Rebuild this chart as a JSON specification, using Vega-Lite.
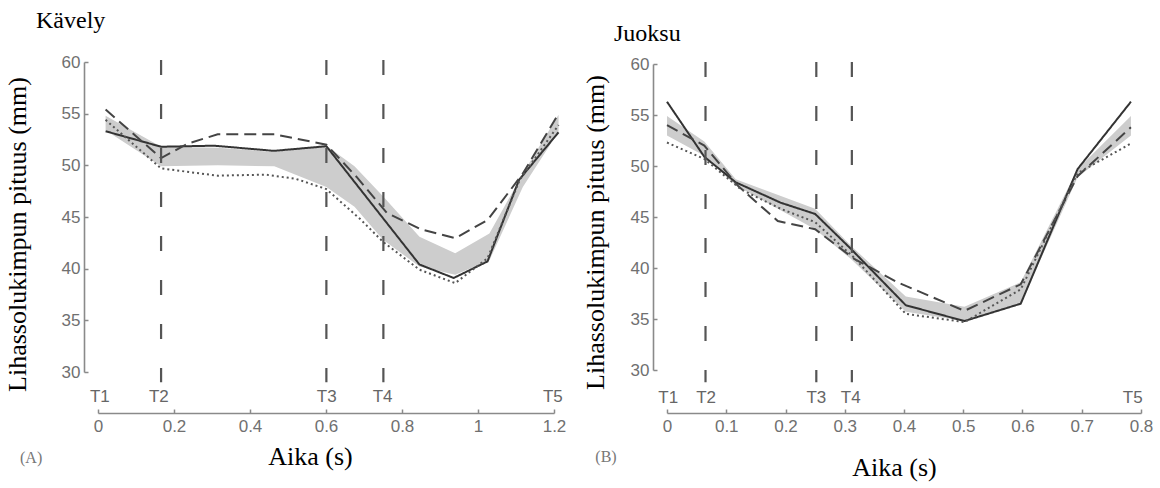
{
  "$schema": "https://vega.github.io/schema/vega-lite/v6.json",
  "background": "white",
  "padding": {"left": 4, "top": 9, "right": 5, "bottom": 5},
  "bounds": "flush",
  "spacing": 113,
  "center": true,
  "config": {
    "view": {"stroke": null},
    "axis": {
      "grid": false,
      "domainColor": "#8a8a8a",
      "domainWidth": 1.6,
      "tickColor": "#8a8a8a",
      "tickWidth": 1.5,
      "tickSize": -4,
      "labelFlush": false,
      "labelColor": "#707070",
      "labelFont": "Liberation Sans",
      "labelFontSize": 17,
      "titleFont": "Liberation Serif",
      "titleFontSize": 26,
      "titleFontWeight": "normal",
      "titleColor": "#000000",
      "titleBaseline": "alphabetic"
    },
    "title": {
      "font": "Liberation Serif",
      "fontSize": 24,
      "fontWeight": "normal",
      "color": "#000000",
      "anchor": "start",
      "frame": "group",
      "baseline": "alphabetic"
    }
  },
  "datasets": {
    "walk": [
      {"t": 0.02, "series": "solid", "v": 53.3},
      {"t": 0.166, "series": "solid", "v": 51.8},
      {"t": 0.306, "series": "solid", "v": 51.9},
      {"t": 0.463, "series": "solid", "v": 51.4},
      {"t": 0.601, "series": "solid", "v": 51.85},
      {"t": 0.846, "series": "solid", "v": 40.4},
      {"t": 0.936, "series": "solid", "v": 39.1},
      {"t": 1.025, "series": "solid", "v": 40.7},
      {"t": 1.108, "series": "solid", "v": 48.6},
      {"t": 1.212, "series": "solid", "v": 53.2},
      {"t": 0.02, "series": "dashed", "v": 55.4},
      {"t": 0.166, "series": "dashed", "v": 50.7},
      {"t": 0.236, "series": "dashed", "v": 52.1},
      {"t": 0.315, "series": "dashed", "v": 53.0},
      {"t": 0.464, "series": "dashed", "v": 53.0},
      {"t": 0.601, "series": "dashed", "v": 52.0},
      {"t": 0.68, "series": "dashed", "v": 48.9},
      {"t": 0.76, "series": "dashed", "v": 45.4},
      {"t": 0.85, "series": "dashed", "v": 43.8},
      {"t": 0.94, "series": "dashed", "v": 42.95},
      {"t": 1.025, "series": "dashed", "v": 44.7},
      {"t": 1.118, "series": "dashed", "v": 49.2},
      {"t": 1.212, "series": "dashed", "v": 55.0},
      {"t": 0.02, "series": "dotted", "v": 54.4},
      {"t": 0.166, "series": "dotted", "v": 49.7},
      {"t": 0.315, "series": "dotted", "v": 49.0},
      {"t": 0.44, "series": "dotted", "v": 49.1},
      {"t": 0.52, "series": "dotted", "v": 48.7},
      {"t": 0.601, "series": "dotted", "v": 47.7},
      {"t": 0.69, "series": "dotted", "v": 44.8},
      {"t": 0.75, "series": "dotted", "v": 42.6},
      {"t": 0.846, "series": "dotted", "v": 39.9},
      {"t": 0.94, "series": "dotted", "v": 38.6},
      {"t": 1.025, "series": "dotted", "v": 41.0},
      {"t": 1.11, "series": "dotted", "v": 48.6},
      {"t": 1.212, "series": "dotted", "v": 53.9}
    ],
    "walkBand": [
      {"t": 0.02, "lo": 53.4, "hi": 54.8},
      {"t": 0.166, "lo": 49.9, "hi": 51.8},
      {"t": 0.315, "lo": 50.0, "hi": 51.7},
      {"t": 0.464, "lo": 49.9, "hi": 51.3},
      {"t": 0.601, "lo": 47.9, "hi": 51.9},
      {"t": 0.675, "lo": 46.0, "hi": 49.9},
      {"t": 0.75, "lo": 42.8, "hi": 47.0},
      {"t": 0.846, "lo": 40.2, "hi": 43.1},
      {"t": 0.94, "lo": 39.4, "hi": 41.5},
      {"t": 1.03, "lo": 40.8, "hi": 43.4},
      {"t": 1.118, "lo": 47.9, "hi": 49.2},
      {"t": 1.212, "lo": 53.25, "hi": 54.9}
    ],
    "walkRules": [{"t": 0.166}, {"t": 0.601}, {"t": 0.751}],
    "walkLabels": [
      {"t": 0.005, "label": "T1"},
      {"t": 0.16, "label": "T2"},
      {"t": 0.602, "label": "T3"},
      {"t": 0.749, "label": "T4"},
      {"t": 1.197, "label": "T5"}
    ],
    "run": [
      {"t": 0.0, "series": "solid", "v": 56.3},
      {"t": 0.063, "series": "solid", "v": 50.9},
      {"t": 0.116, "series": "solid", "v": 48.4},
      {"t": 0.192, "series": "solid", "v": 46.4},
      {"t": 0.25, "series": "solid", "v": 45.3},
      {"t": 0.31, "series": "solid", "v": 41.9},
      {"t": 0.403, "series": "solid", "v": 36.35},
      {"t": 0.502, "series": "solid", "v": 34.8},
      {"t": 0.597, "series": "solid", "v": 36.5},
      {"t": 0.693, "series": "solid", "v": 49.7},
      {"t": 0.783, "series": "solid", "v": 56.3},
      {"t": 0.0, "series": "dashed", "v": 54.0},
      {"t": 0.063, "series": "dashed", "v": 52.0},
      {"t": 0.119, "series": "dashed", "v": 48.1},
      {"t": 0.187, "series": "dashed", "v": 44.6},
      {"t": 0.25, "series": "dashed", "v": 43.8},
      {"t": 0.316, "series": "dashed", "v": 40.9},
      {"t": 0.389, "series": "dashed", "v": 38.6},
      {"t": 0.502, "series": "dashed", "v": 35.8},
      {"t": 0.597, "series": "dashed", "v": 38.4},
      {"t": 0.693, "series": "dashed", "v": 49.0},
      {"t": 0.783, "series": "dashed", "v": 53.8},
      {"t": 0.0, "series": "dotted", "v": 52.3},
      {"t": 0.063, "series": "dotted", "v": 50.7},
      {"t": 0.125, "series": "dotted", "v": 47.7},
      {"t": 0.192, "series": "dotted", "v": 45.8},
      {"t": 0.25, "series": "dotted", "v": 44.5},
      {"t": 0.316, "series": "dotted", "v": 41.0},
      {"t": 0.403, "series": "dotted", "v": 35.5},
      {"t": 0.502, "series": "dotted", "v": 34.7},
      {"t": 0.597, "series": "dotted", "v": 37.9},
      {"t": 0.693, "series": "dotted", "v": 49.3},
      {"t": 0.783, "series": "dotted", "v": 52.2}
    ],
    "runBand": [
      {"t": 0.0, "lo": 53.0, "hi": 54.9},
      {"t": 0.063, "lo": 51.0, "hi": 52.4},
      {"t": 0.116, "lo": 48.1, "hi": 48.7},
      {"t": 0.25, "lo": 43.8, "hi": 45.8},
      {"t": 0.31, "lo": 40.9, "hi": 42.2},
      {"t": 0.403, "lo": 35.7, "hi": 37.2},
      {"t": 0.502, "lo": 34.8, "hi": 36.2},
      {"t": 0.597, "lo": 36.5, "hi": 38.6},
      {"t": 0.693, "lo": 48.9, "hi": 49.7},
      {"t": 0.783, "lo": 53.0, "hi": 54.9}
    ],
    "runRules": [{"t": 0.065}, {"t": 0.252}, {"t": 0.312}],
    "runLabels": [
      {"t": 0.002, "label": "T1"},
      {"t": 0.066, "label": "T2"},
      {"t": 0.252, "label": "T3"},
      {"t": 0.31, "label": "T4"},
      {"t": 0.786, "label": "T5"}
    ]
  },
  "hconcat": [
    {
      "width": 456,
      "height": 310,
      "title": {"text": "Kävely", "offset": 20, "dx": -62},
      "layer": [
        {
          "data": {"name": "walkBand"},
          "mark": {"type": "area", "color": "#cdcdcd", "opacity": 1},
          "encoding": {
            "x": {
              "field": "t", "type": "quantitative",
              "scale": {"domain": [0, 1.2], "nice": false, "zero": false},
              "axis": {
                "title": "Aika (s)",
                "values": [0, 0.2, 0.4, 0.6, 0.8, 1, 1.2],
                "format": "~g",
                "offset": 41,
                "labelPadding": 9,
                "titleX": 212,
                "titleY": 51
              }
            },
            "y": {
              "field": "lo", "type": "quantitative",
              "scale": {"domain": [30, 60], "nice": false, "zero": false},
              "axis": {
                "title": "Lihassolukimpun pituus (mm)",
                "values": [30, 35, 40, 45, 50, 55, 60],
                "offset": 14,
                "labelPadding": 8,
                "titleX": -59,
                "titleY": 172
              }
            },
            "y2": {"field": "hi"}
          }
        },
        {
          "data": {"name": "walk"},
          "mark": {"type": "line", "strokeWidth": 2},
          "encoding": {
            "x": {"field": "t", "type": "quantitative"},
            "y": {"field": "v", "type": "quantitative"},
            "color": {"field": "series", "type": "nominal", "scale": {"domain": ["solid", "dashed", "dotted"], "range": ["#333333", "#444444", "#555555"]}, "legend": null},
            "strokeDash": {"field": "series", "type": "nominal", "scale": {"domain": ["solid", "dashed", "dotted"], "range": [[1, 0], [12, 6], [2, 3]]}, "legend": null}
          }
        },
        {
          "data": {"name": "walkRules"},
          "mark": {"type": "rule", "color": "#555555", "strokeWidth": 2.2, "strokeDash": [15, 29]},
          "encoding": {
            "x": {"field": "t", "type": "quantitative"},
            "y": {"datum": 60.2},
            "y2": {"datum": 29}
          }
        },
        {
          "data": {"name": "walkLabels"},
          "mark": {"type": "text", "font": "Liberation Sans", "fontSize": 17, "color": "#666666", "baseline": "middle", "align": "center"},
          "encoding": {
            "x": {"field": "t", "type": "quantitative"},
            "y": {"datum": 27.6},
            "text": {"field": "label"}
          }
        },
        {
          "data": {"values": [{"panel": "(A)"}]},
          "mark": {"type": "text", "font": "Liberation Serif", "fontSize": 16, "color": "#777777", "baseline": "middle", "align": "center"},
          "encoding": {
            "x": {"datum": -0.176},
            "y": {"datum": 21.7},
            "text": {"field": "panel"}
          }
        }
      ]
    },
    {
      "width": 474,
      "height": 306,
      "title": {"text": "Juoksu", "offset": 9, "dx": -53},
      "layer": [
        {
          "data": {"name": "runBand"},
          "mark": {"type": "area", "color": "#cdcdcd", "opacity": 1},
          "encoding": {
            "x": {
              "field": "t", "type": "quantitative",
              "scale": {"domain": [0, 0.8], "nice": false, "zero": false},
              "axis": {
                "title": "Aika (s)",
                "values": [0, 0.1, 0.2, 0.3, 0.4, 0.5, 0.6, 0.7, 0.8],
                "format": "~g",
                "offset": 43,
                "labelPadding": 9,
                "titleX": 227,
                "titleY": 62
              }
            },
            "y": {
              "field": "lo", "type": "quantitative",
              "scale": {"domain": [30, 60], "nice": false, "zero": false},
              "axis": {
                "title": "Lihassolukimpun pituus (mm)",
                "values": [30, 35, 40, 45, 50, 55, 60],
                "offset": 14,
                "labelPadding": 8,
                "titleX": -50,
                "titleY": 168
              }
            },
            "y2": {"field": "hi"}
          }
        },
        {
          "data": {"name": "run"},
          "mark": {"type": "line", "strokeWidth": 2},
          "encoding": {
            "x": {"field": "t", "type": "quantitative"},
            "y": {"field": "v", "type": "quantitative"},
            "color": {"field": "series", "type": "nominal", "scale": {"domain": ["solid", "dashed", "dotted"], "range": ["#333333", "#444444", "#555555"]}, "legend": null},
            "strokeDash": {"field": "series", "type": "nominal", "scale": {"domain": ["solid", "dashed", "dotted"], "range": [[1, 0], [12, 6], [2, 3]]}, "legend": null}
          }
        },
        {
          "data": {"name": "runRules"},
          "mark": {"type": "rule", "color": "#555555", "strokeWidth": 2.2, "strokeDash": [15, 29]},
          "encoding": {
            "x": {"field": "t", "type": "quantitative"},
            "y": {"datum": 60.2},
            "y2": {"datum": 28.8}
          }
        },
        {
          "data": {"name": "runLabels"},
          "mark": {"type": "text", "font": "Liberation Sans", "fontSize": 17, "color": "#666666", "baseline": "middle", "align": "center"},
          "encoding": {
            "x": {"field": "t", "type": "quantitative"},
            "y": {"datum": 27.3},
            "text": {"field": "label"}
          }
        },
        {
          "data": {"values": [{"panel": "(B)"}]},
          "mark": {"type": "text", "font": "Liberation Serif", "fontSize": 16, "color": "#777777", "baseline": "middle", "align": "center"},
          "encoding": {
            "x": {"datum": -0.103},
            "y": {"datum": 21.5},
            "text": {"field": "panel"}
          }
        }
      ]
    }
  ]
}
